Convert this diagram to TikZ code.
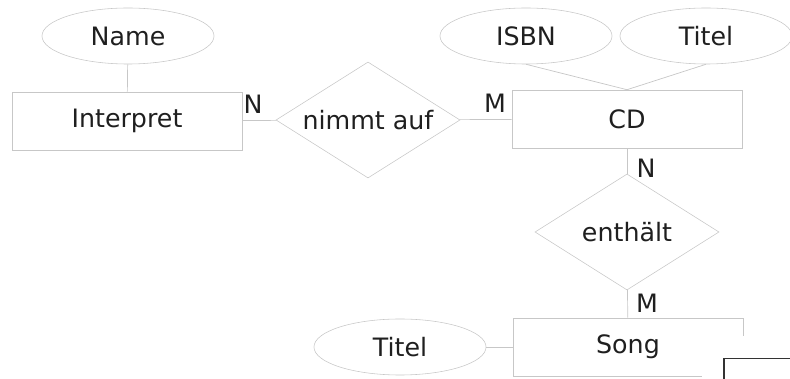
\documentclass[tikz,border=0pt]{standalone}
\usepackage{fontspec}
\setmainfont{DejaVu Sans}
\usepackage{xcolor}
\usetikzlibrary{shapes, shapes.geometric, positioning}
\definecolor{erline}{rgb}{0.78, 0.78, 0.78}
\definecolor{ertext}{rgb}{0.12, 0.12, 0.12}

\tikzset{
    entity/.style={draw=erline, rectangle, minimum width=5.75cm, minimum height=1.45cm, text=ertext, font=\fontsize{18}{20}\selectfont},
    attrib/.style={draw=erline, ellipse, minimum width=4.3cm, minimum height=1.4cm, inner sep=0pt, text=ertext, font=\fontsize{18}{20}\selectfont},
    relation/.style={draw=erline, diamond, aspect=1.6, minimum width=4.6cm, minimum height=2.9cm, inner sep=0pt, text=ertext, font=\fontsize{18}{20}\selectfont},
    card/.style={text=ertext, inner sep=0pt, font=\fontsize{18}{20}\selectfont},
    conn/.style={draw=erline, line width=0.5pt}
}

\begin{document}
\begin{tikzpicture}[x=0.025cm, y=-0.025cm]
        \useasboundingbox (0, 0) rectangle (790, 379);

        \node [attrib] (Name) at (128, 36) {Name};
        \node [entity] (Interpret) at (127, 121) {Interpret};
        \node [relation] (Nimmt) at (368, 120) {nimmt auf};
        \node [entity] (CD) at (627, 119) {CD};
        \node [attrib] (ISBN) at (526, 36) {ISBN};
        \node [attrib] (CDTitel) at (706, 36) {Titel};
        \node [relation] (Enthaelt) at (627, 232) {enthält};
        \node [entity] (Song) at (628, 347) {Song};
        \node [attrib] (SongTitel) at (400, 347) {Titel};

        \draw [conn] (Name) -- (Interpret);
        \draw [conn] (Interpret) -- (Nimmt);
        \draw [conn] (Nimmt) -- (CD);
        \draw [conn] (ISBN.south) -- (CD.north);
        \draw [conn] (CDTitel.south) -- (CD.north);
        \draw [conn] (CD) -- (Enthaelt);
        \draw [conn] (Enthaelt) -- (Song);
        \draw [conn] (SongTitel) -- (Song);

        \node [card] (cardN1) at (253, 104) {N};
        \node [card] (cardM1) at (495, 103) {M};
        \node [card] (cardN2) at (646, 168) {N};
        \node [card] (cardM2) at (647, 303) {M};

        % window corner over the bottom right
        \fill [white] (702, 336) rectangle (790, 379);
        \draw [line width=1.2pt, color=black!80] (724, 379) -- (724, 358.5) -- (790, 358.5);
    \end{tikzpicture}
\end{document}
